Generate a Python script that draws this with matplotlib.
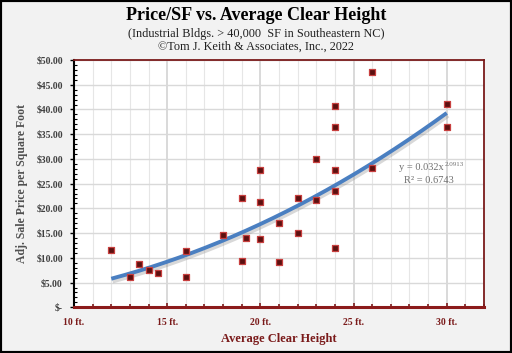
import numpy as np
import matplotlib
matplotlib.use("Agg")
import matplotlib.pyplot as plt
from matplotlib import patheffects as pe
from matplotlib.ticker import MultipleLocator, FixedLocator
from matplotlib.patches import Rectangle

# ---- data ----
clear_height = [12, 13, 13.5, 14, 14.5, 16, 16, 18, 19, 19, 19.25, 20, 20, 20,
                21, 21, 22, 22, 23, 23, 24, 24, 24, 24, 24, 26, 26, 30, 30]
price_sf = [11.6, 6.2, 8.8, 7.5, 7.0, 11.3, 6.2, 14.6, 22.1, 9.4, 14.0, 27.7, 21.3, 13.8,
            17.0, 9.2, 22.1, 15.0, 30.0, 21.7, 40.6, 36.4, 27.7, 23.5, 11.9, 47.5, 28.1, 41.2, 36.4]
fit_a = 0.032
fit_b = 2.0913
fit_r2 = 0.6743
x_ticks = [10, 15, 20, 25, 30]
x_ticklabels = ["10 ft.", "15 ft.", "20 ft.", "25 ft.", "30 ft."]
y_ticks = [0, 5, 10, 15, 20, 25, 30, 35, 40, 45, 50]
y_ticklabels = ["$-", "$5.00", "$10.00", "$15.00", "$20.00", "$25.00",
                "$30.00", "$35.00", "$40.00", "$45.00", "$50.00"]

serif = ["Liberation Serif", "DejaVu Serif"]
dark_red = "#7a1a1a"

fig = plt.figure(figsize=(5.12, 3.53), dpi=100)
fig.patch.set_facecolor("#f2f2f2")
ax = fig.add_axes([74/512, 1-307.3/353, (484-74)/512, (307.3-60)/353])
ax.set_facecolor("white")

ax.set_xlim(10, 32)
ax.set_ylim(0, 50)

# grid
ax.xaxis.set_major_locator(FixedLocator(x_ticks))
ax.xaxis.set_minor_locator(MultipleLocator(1))
ax.yaxis.set_major_locator(FixedLocator(y_ticks))
ax.yaxis.set_minor_locator(MultipleLocator(1))
ax.grid(which="major", axis="x", color="#d0d0d0", lw=1.1)
ax.grid(which="minor", axis="x", color="#e6e6e6", lw=0.8)
ax.grid(which="major", axis="y", color="#d9d9d9", lw=1.0)
ax.set_axisbelow(True)

ax.set_xticklabels(x_ticklabels, fontfamily=serif, fontsize=7, fontweight="bold", color=dark_red)
ax.set_yticklabels(y_ticklabels, fontfamily=serif, fontsize=7, fontweight="bold", color="#404040")
ax.tick_params(axis="x", which="major", length=3, width=1.2, color=dark_red, direction="in", pad=8)
ax.tick_params(axis="x", which="minor", length=2, width=1.2, color=dark_red, direction="in")
ax.tick_params(axis="y", which="major", length=3, width=1, color="black", direction="out", pad=5)
ax.tick_params(axis="y", which="minor", length=2, width=0.8, color="black", direction="in")

for s in ["top", "right"]:
    ax.spines[s].set_color(dark_red)
    ax.spines[s].set_linewidth(1.3)
ax.spines["bottom"].set_color("#8b1a1a")
ax.spines["bottom"].set_linewidth(2.2)
ax.spines["left"].set_color("black")
ax.spines["left"].set_linewidth(1.5)

# trendline
xs = np.linspace(min(clear_height), max(clear_height), 200)
ys = fit_a * xs ** fit_b
ax.plot(xs, ys, color="#4a7fc1", lw=2.8, solid_capstyle="butt",
        path_effects=[pe.SimpleLineShadow(offset=(1, -2), shadow_color="#909090", alpha=0.35, rho=0.3),
                      pe.Normal()], zorder=3)

# points
ax.scatter(clear_height, price_sf, marker="s", s=20, facecolor="#5c1010",
           edgecolor="#c8403f", linewidths=0.9, zorder=4)

eq = ax.text(27.45, 28.2, "y = 0.032x", fontfamily=serif, fontsize=7.5,
             color="#707070", ha="left", va="center", zorder=5)
ax.annotate("2.0913", xy=(1, 0.6), xycoords=eq, xytext=(0.3, 0), textcoords="offset points",
            fontfamily=serif, fontsize=5, color="#707070", ha="left", va="bottom", zorder=5)
ax.text(29.05, 25.6, "R² = %.4f" % fit_r2, fontfamily=serif, fontsize=7.5,
        color="#707070", ha="center", va="center", zorder=5)

ax.set_xlabel("Average Clear Height", fontfamily=serif, fontsize=9, fontweight="bold",
              color=dark_red, labelpad=4)
ax.set_ylabel("Adj. Sale Price per Square Foot", fontfamily=serif, fontsize=8.5,
              fontweight="bold", color="#505050", labelpad=6)

fig.text(0.5, 1-16/353, "Price/SF vs. Average Clear Height", fontfamily=serif,
         fontsize=13, fontweight="bold", ha="center", va="center", color="black")
fig.text(0.5, 1-34/353, "(Industrial Bldgs. > 40,000  SF in Southeastern NC)", fontfamily=serif,
         fontsize=8.8, ha="center", va="center", color="#202020")
fig.text(0.5, 1-47/353, "©Tom J. Keith & Associates, Inc., 2022", fontfamily=serif,
         fontsize=8.8, ha="center", va="center", color="#202020")

fig.patches.append(Rectangle((0, 0), 1, 1, transform=fig.transFigure, fill=False,
                             edgecolor="black", lw=3, zorder=10))

fig.savefig("out.png", dpi=100, facecolor=fig.get_facecolor())
